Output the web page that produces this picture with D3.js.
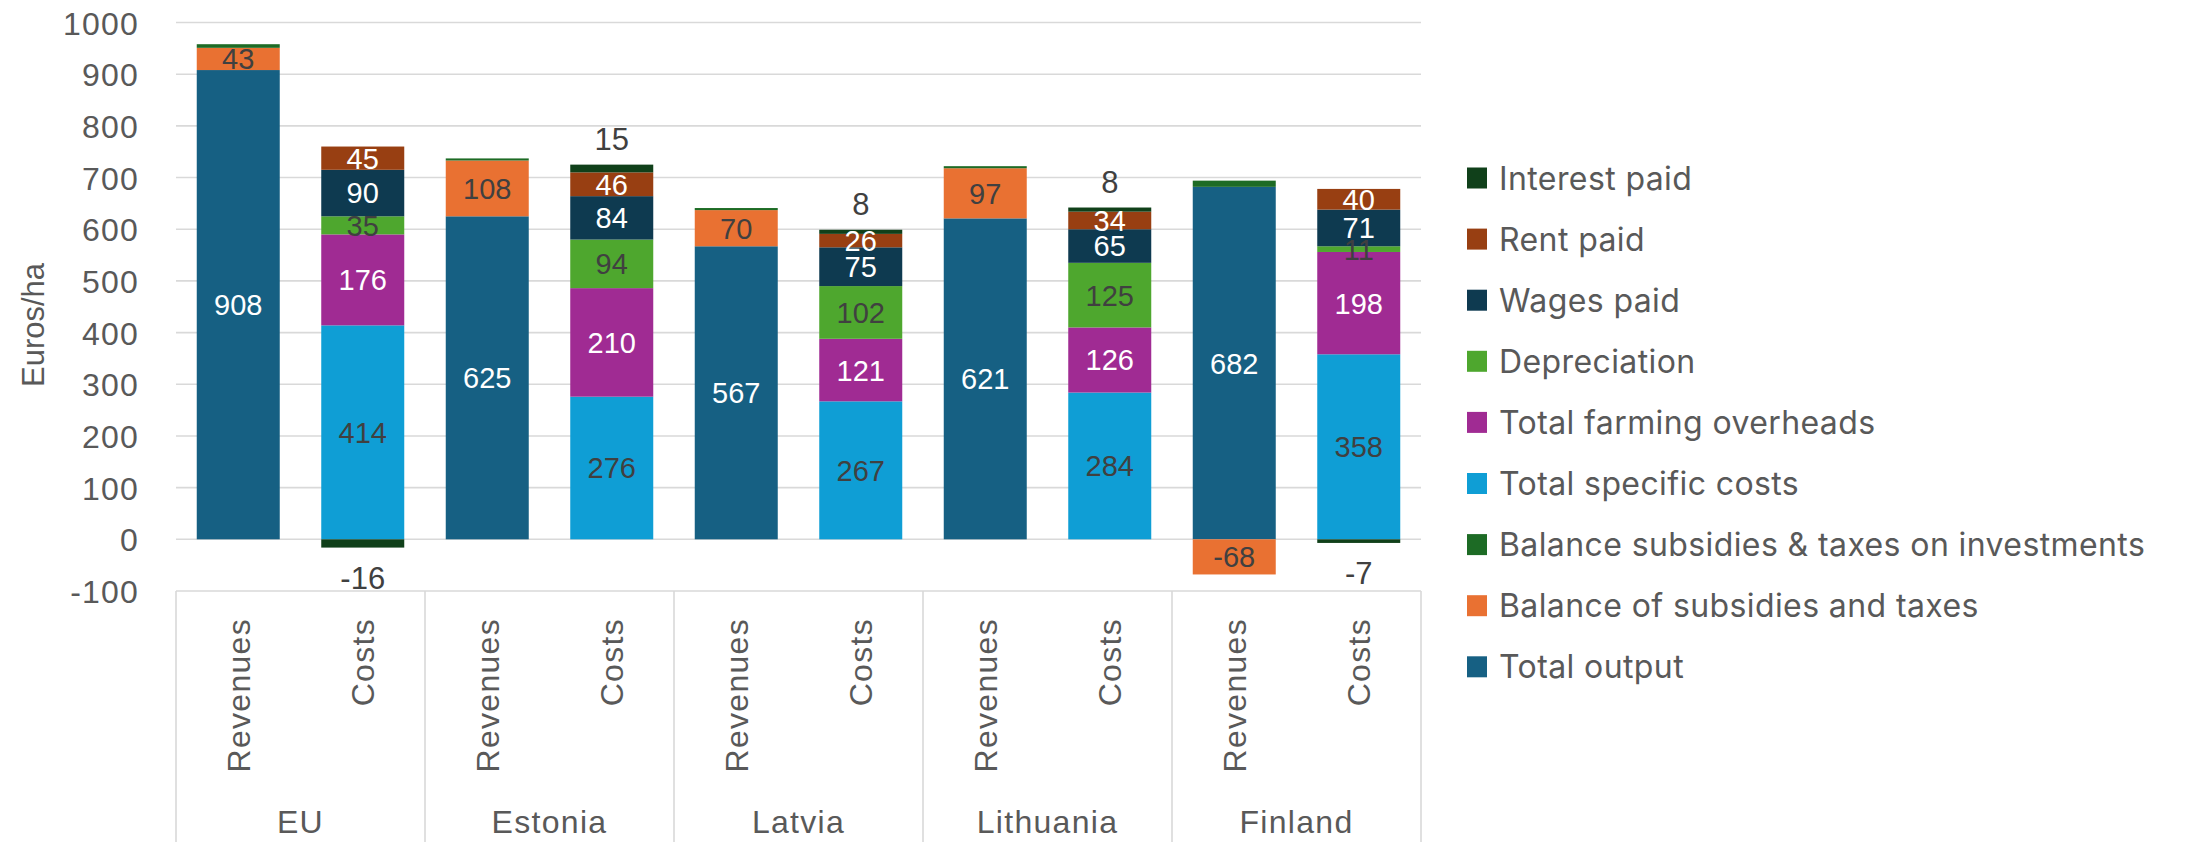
<!DOCTYPE html>
<html>
<head>
<meta charset="utf-8">
<script src="https://cdn.jsdelivr.net/npm/d3@7"></script>
<style>
  html, body { margin: 0; padding: 0; background: #ffffff; }
  svg { display: block; }
</style>
</head>
<body>
<svg id="chart" width="2195" height="842"></svg>
<script>
// ---------- DATA ----------
const countries = ["EU", "Estonia", "Latvia", "Lithuania", "Finland"];
const subcats = ["Revenues", "Costs"];
const yTicks = [-100, 0, 100, 200, 300, 400, 500, 600, 700, 800, 900, 1000];

// values per bar, order: EU Rev, EU Costs, Estonia Rev, Estonia Costs, ...
const totalOutput      = [908, null, 625, null, 567, null, 621, null, 682, null];
const balanceSubsidies = [43, null, 108, null, 70, null, 97, null, -68, null];
const balanceInvest    = [7, null, 4, null, 4, null, 4, null, 12, null];
const specificCosts    = [null, 414, null, 276, null, 267, null, 284, null, 358];
const farmingOverheads = [null, 176, null, 210, null, 121, null, 126, null, 198];
const depreciation     = [null, 35, null, 94, null, 102, null, 125, null, 11];
const wagesPaid        = [null, 90, null, 84, null, 75, null, 65, null, 71];
const rentPaid         = [null, 45, null, 46, null, 26, null, 34, null, 40];
const interestPaid     = [null, -16, null, 15, null, 8, null, 8, null, -7];

// series in stacking order (bottom to top)
const seriesNames = [
  "Total output",
  "Balance of subsidies and taxes",
  "Balance subsidies & taxes on investments",
  "Total specific costs",
  "Total farming overheads",
  "Depreciation",
  "Wages paid",
  "Rent paid",
  "Interest paid"
];
const seriesValues = [totalOutput, balanceSubsidies, balanceInvest, specificCosts,
  farmingOverheads, depreciation, wagesPaid, rentPaid, interestPaid];
const seriesColors = ["#166083", "#E97132", "#1D6B25", "#0F9ED5", "#A02B93",
  "#4EA72E", "#0E3A50", "#983F12", "#10401A"];
const labelColors = ["#ffffff", "#404040", null, "#404040", "#ffffff",
  "#404040", "#ffffff", "#ffffff", "#404040"];

// ---------- BUILD TABLE ----------
const rows = [];
countries.forEach((c, ci) => {
  subcats.forEach((s, si) => {
    const idx = ci * 2 + si;
    const row = { country: c, sub: s, key: c + "|" + s };
    seriesNames.forEach((n, k) => { row[n] = seriesValues[k][idx] == null ? 0 : seriesValues[k][idx]; });
    rows.push(row);
  });
});

// ---------- LAYOUT ----------
const svg = d3.select("#chart");
const plotLeft = 176, plotRight = 1421;
const y = d3.scaleLinear().domain([-100, 1000]).range([591, 22.5]);
const x0 = d3.scaleBand().domain(countries).range([plotLeft, plotRight]).paddingInner(0).paddingOuter(0);
const x1 = d3.scaleBand().domain(subcats).range([0, x0.bandwidth()]).paddingInner(1/3).paddingOuter(1/6);
const xBar = d => x0(d.country) + x1(d.sub);

const axisFont = "'Liberation Sans', Arial, sans-serif";
const textGray = "#595959";

// gridlines
svg.append("g").selectAll("line").data(yTicks).join("line")
  .attr("x1", plotLeft).attr("x2", plotRight)
  .attr("y1", d => y(d)).attr("y2", d => y(d))
  .attr("stroke", "#D9D9D9").attr("stroke-width", 1.6);

// y tick labels via axis
const yAxis = d3.axisLeft(y).tickValues(yTicks).tickFormat(d => String(d)).tickSize(0).tickPadding(0);
const gy = svg.append("g").attr("transform", "translate(139,0)").call(yAxis);
gy.select(".domain").remove();
gy.selectAll("text")
  .attr("font-family", axisFont).attr("font-size", 32).attr("letter-spacing", 1.2)
  .attr("fill", textGray).attr("dy", "0.36em");

// y title
svg.append("text")
  .attr("transform", "translate(44,325) rotate(-90)")
  .attr("text-anchor", "middle")
  .attr("font-family", axisFont).attr("font-size", 31)
  .attr("fill", textGray).text("Euros/ha");

// stacked bars
const stack = d3.stack().keys(seriesNames).offset(d3.stackOffsetDiverging);
const stacked = stack(rows);

const gBars = svg.append("g");
stacked.forEach((layer, k) => {
  gBars.append("g").attr("fill", seriesColors[k])
    .selectAll("rect").data(layer.filter(d => d[1] - d[0] !== 0)).join("rect")
    .attr("x", d => xBar(d.data))
    .attr("width", x1.bandwidth())
    .attr("y", d => y(Math.max(d[0], d[1])))
    .attr("height", d => Math.abs(y(d[0]) - y(d[1])));
});

// data labels
const gLab = svg.append("g").attr("font-family", axisFont).attr("text-anchor", "middle");
stacked.forEach((layer, k) => {
  if (!labelColors[k]) return;
  const isInterest = seriesNames[k] === "Interest paid";
  layer.filter(d => d[1] - d[0] !== 0).forEach(d => {
    const v = d.data[seriesNames[k]];
    const cx = xBar(d.data) + x1.bandwidth() / 2;
    const t = gLab.append("text").attr("x", cx).text(String(v)).attr("fill", labelColors[k]);
    if (isInterest) {
      t.attr("font-size", 31);
      if (v >= 0) t.attr("y", y(d[1]) - 15);
      else t.attr("y", y(d[0]) + 41);
    } else {
      t.attr("font-size", 29).attr("dy", "0.36em")
        .attr("y", (y(d[0]) + y(d[1])) / 2);
    }
  });
});

// x axis: separators below the -100 line
const sepX = countries.map(c => x0(c)).concat([plotRight]);
svg.append("g").selectAll("line").data(sepX).join("line")
  .attr("x1", d => d).attr("x2", d => d)
  .attr("y1", y(-100)).attr("y2", 842)
  .attr("stroke", "#D9D9D9").attr("stroke-width", 1.6);

// sub-category labels (rotated)
svg.append("g").selectAll("text").data(rows).join("text")
  .attr("transform", d => `translate(${xBar(d) + x1.bandwidth() / 2},618) rotate(-90)`)
  .attr("text-anchor", "end").attr("dy", "0.36em")
  .attr("font-family", axisFont).attr("font-size", 32).attr("letter-spacing", 1.3)
  .attr("fill", textGray).text(d => d.sub);

// country labels
svg.append("g").selectAll("text").data(countries).join("text")
  .attr("x", d => x0(d) + x0.bandwidth() / 2).attr("y", 833)
  .attr("text-anchor", "middle")
  .attr("font-family", axisFont).attr("font-size", 32).attr("letter-spacing", 1.3)
  .attr("fill", textGray).text(d => d);

// legend (reverse order)
const legendItems = seriesNames.map((n, k) => ({ name: n, color: seriesColors[k] })).reverse();
const lg = svg.append("g");
const legItem = lg.selectAll("g").data(legendItems).join("g")
  .attr("transform", (d, i) => `translate(1467,${178 + i * 61.1})`);
legItem.append("rect").attr("x", 0).attr("y", -10.5).attr("width", 20).attr("height", 21)
  .attr("fill", d => d.color);
legItem.append("text").attr("x", 32).attr("dy", "0.36em")
  .attr("font-family", "Inter, 'Open Sans', sans-serif").attr("font-size", 32)
  .attr("letter-spacing", 0.4)
  .attr("fill", textGray).text(d => d.name);
</script>
</body>
</html>
